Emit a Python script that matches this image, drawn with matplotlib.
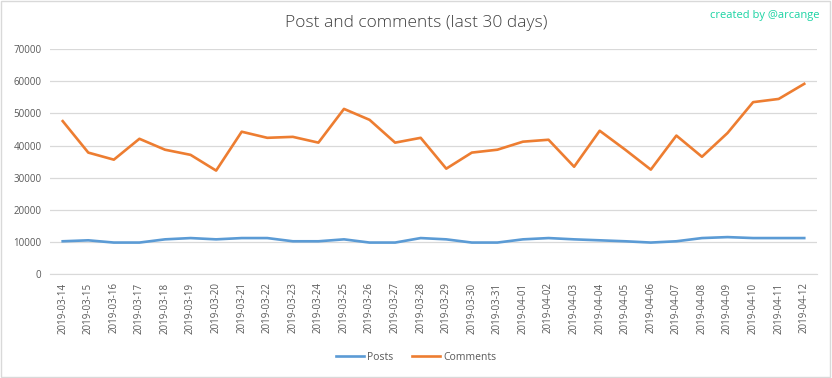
import matplotlib.pyplot as plt
import matplotlib.patches as mpatches

dates = ["2019-03-14", "2019-03-15", "2019-03-16", "2019-03-17", "2019-03-18",
         "2019-03-19", "2019-03-20", "2019-03-21", "2019-03-22", "2019-03-23",
         "2019-03-24", "2019-03-25", "2019-03-26", "2019-03-27", "2019-03-28",
         "2019-03-29", "2019-03-30", "2019-03-31", "2019-04-01", "2019-04-02",
         "2019-04-03", "2019-04-04", "2019-04-05", "2019-04-06", "2019-04-07",
         "2019-04-08", "2019-04-09", "2019-04-10", "2019-04-11", "2019-04-12"]
posts = [10200, 10500, 9800, 9800, 10800, 11200, 10800, 11200, 11200, 10200,
         10200, 10800, 9800, 9800, 11200, 10800, 9800, 9800, 10800, 11200,
         10800, 10500, 10200, 9800, 10200, 11200, 11500, 11200, 11200, 11200]
comments = [47600, 37800, 35600, 42100, 38700, 37100, 32200, 44300, 42400, 42700,
            40900, 51400, 48000, 40900, 42400, 32800, 37800, 38700, 41200, 41800,
            33400, 44600, 38700, 32500, 43100, 36500, 43900, 53500, 54500, 59200]
yticks = [0, 10000, 20000, 30000, 40000, 50000, 60000, 70000]

grey = "#595959"
fig = plt.figure(figsize=(8.32, 3.78), dpi=100)
fig.patches.append(mpatches.Rectangle((0.001, 0.002), 0.997, 0.995, transform=fig.transFigure,
                                      fill=False, edgecolor="#d9d9d9", lw=1))
ax = fig.add_axes([0.060, 0.275, 0.922, 0.595])

x = range(len(dates))
ax.plot(x, posts, color="#5B9BD5", lw=1.9, label="Posts")
ax.plot(x, comments, color="#ED7D31", lw=1.9, label="Comments")

ax.set_xlim(-0.5, len(dates) - 0.5)
ax.set_ylim(0, 70000)
ax.set_yticks(yticks)
ax.set_yticklabels([str(v) for v in yticks], color=grey, fontsize=7, family="Open Sans")
ax.set_xticks(list(x))
ax.set_xticklabels(dates, rotation=90, color=grey, fontsize=7, family="Open Sans")
ax.tick_params(length=0, pad=6)
ax.grid(axis="y", color="#d9d9d9", lw=0.9)
ax.set_axisbelow(True)
for s in ["top", "right", "left"]:
    ax.spines[s].set_visible(False)
ax.spines["bottom"].set_color("#d9d9d9")

fig.text(0.5, 0.938, "Post and comments (last 30 days)", ha="center", va="center",
         fontsize=12.5, color="#404040", family="Open Sans", fontweight="light")
fig.text(0.985, 0.96, "created by @arcange", ha="right", va="center",
         fontsize=8, color="#1ad3a3", family="Open Sans")

fig.legend(loc="center", bbox_to_anchor=(0.5, 0.055), ncol=2, frameon=False,
           prop={"family": "Open Sans", "size": 7.5}, labelcolor=grey,
           handlelength=2.7, columnspacing=1.8, handletextpad=0.3)

plt.savefig("out.png", dpi=100)
